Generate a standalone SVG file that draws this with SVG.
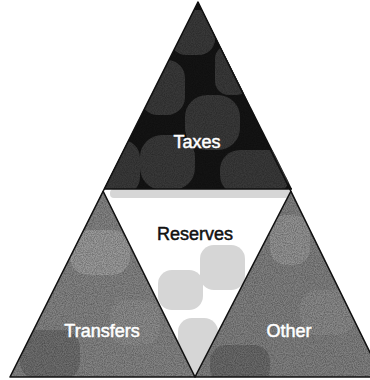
<svg xmlns="http://www.w3.org/2000/svg" width="370" height="380" viewBox="0 0 370 380">
<style>
.lbl{font-family:"Liberation Sans",Arial,sans-serif;font-size:18px;text-anchor:middle}
.w{fill:#fff;stroke:#fff;stroke-width:0.5}
.k{fill:#111;stroke:#111;stroke-width:0.5}
.edge{fill:none;stroke:#111;stroke-width:1.6;stroke-linejoin:round}
.nz{filter:url(#noise)}
</style>
<defs>
<clipPath id="cTop"><polygon points="198,2 104,189 292,189"/></clipPath>
<clipPath id="cMid"><polygon points="104,189 292,189 195,377"/></clipPath>
<clipPath id="cL"><polygon points="103,191 10,377 195,377"/></clipPath>
<clipPath id="cR"><polygon points="291,191 195,377 382,377"/></clipPath>
<filter id="noise" x="0" y="0" width="100%" height="100%">
<feTurbulence type="fractalNoise" baseFrequency="0.9" numOctaves="2" seed="3"/>
<feColorMatrix type="matrix" values="0 0 0 0 0  0 0 0 0 0  0 0 0 0 0  0 0 0 -1.6 1.1"/>
</filter>
</defs>
<rect width="370" height="380" fill="#fff"/>
<g id="taxes">
<polygon points="198,2 104,189 292,189" fill="#141414"/>
<g clip-path="url(#cTop)" fill="#393939">
<rect x="170" y="10" width="45" height="45" rx="16"/>
<rect x="140" y="60" width="45" height="55" rx="18"/>
<rect x="185" y="95" width="55" height="55" rx="22"/>
<rect x="100" y="140" width="40" height="55" rx="18"/>
<rect x="140" y="135" width="55" height="55" rx="22"/>
<rect x="220" y="150" width="70" height="45" rx="20"/>
<rect x="215" y="45" width="35" height="50" rx="14"/>
<rect x="0" y="0" width="370" height="200" class="nz" opacity="0.3"/>
</g>
<text class="lbl w" x="197" y="148">Taxes</text>
</g>
<g id="reserves">
<polygon points="104,189 292,189 195,377" fill="#ffffff"/>
<g clip-path="url(#cMid)" fill="#d6d6d6">
<rect x="110" y="189" width="180" height="9" rx="4"/>
<rect x="200" y="245" width="45" height="45" rx="14"/>
<rect x="158" y="270" width="45" height="40" rx="14"/>
<rect x="178" y="318" width="40" height="60" rx="14"/>
</g>
<text class="lbl k" x="195" y="240">Reserves</text>
</g>
<g id="transfers">
<polygon points="103,191 10,377 195,377" fill="#848484"/>
<g clip-path="url(#cL)">
<rect x="70" y="230" width="60" height="45" rx="18" fill="#9a9a9a"/>
<rect x="20" y="330" width="60" height="50" rx="18" fill="#6e6e6e"/>
<rect x="110" y="300" width="50" height="45" rx="16" fill="#8c8c8c"/>
<rect x="0" y="180" width="370" height="200" class="nz" opacity="0.35"/>
</g>
<text class="lbl w" x="102" y="337">Transfers</text>
</g>
<g id="other">
<polygon points="291,191 195,377 382,377" fill="#808080"/>
<g clip-path="url(#cR)">
<rect x="270" y="215" width="40" height="50" rx="16" fill="#939393"/>
<rect x="300" y="290" width="55" height="45" rx="18" fill="#8a8a8a"/>
<rect x="210" y="345" width="60" height="40" rx="16" fill="#6a6a6a"/>
<rect x="0" y="180" width="370" height="200" class="nz" opacity="0.35"/>
</g>
<text class="lbl w" x="289" y="337">Other</text>
</g>
<g id="edges">
<polygon class="edge" points="198,2 10,377 382,377"/>
<line class="edge" x1="104" y1="189" x2="292" y2="189"/>
<polyline class="edge" points="103,191 195,377 291,191"/>
</g>
</svg>
